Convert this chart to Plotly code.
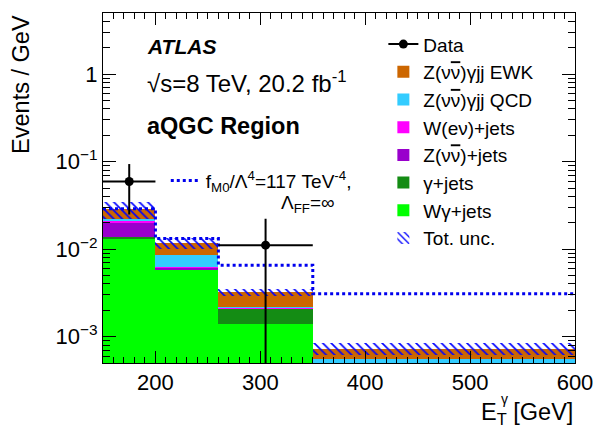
import numpy as np
import plotly.graph_objects as go

# ---------------- data ----------------
bin_edges = [150, 200, 260, 350, 600]

# stacked backgrounds (Events / GeV), bottom -> top
wgam_jets = [0.0134, 0.00580, 0.00141, 0.00035]
gam_jets = [0.0002, 0.00006, 0.00069, 0.00004]
znunu_jets = [0.0064, 0.00025, 0.00002, 0.00004]
wenu_jets = [0.0012, 0.00018, 0.00001, 0.00002]
zgjj_qcd = [0.0009, 0.0024, 0.00003, 0.0001]
zgjj_ewk = [0.0064, 0.0030, 0.00104, 0.00018]
tot_unc = [0.0065, 0.0017, 0.0003, 0.00012]

# aQGC signal + background
signal_fm0 = [0.0289, 0.0132, 0.00656, 0.0031]

# data
data_y = [0.0594, None, 0.0111, None]
data_err = [0.0345, None, 0.0111, None]

# ---------------- derived ----------------
edges = np.array(bin_edges, dtype=float)
centers = 0.5 * (edges[:-1] + edges[1:])
widths = edges[1:] - edges[:-1]
half = widths / 2

nunubar = 'ν<span style="text-decoration:overline">ν</span>'

components = [
    ("Wγ+jets", wgam_jets, "#00ff00", 7),
    ("γ+jets", gam_jets, "#148c14", 6),
    ("Z(" + nunubar + ")+jets", znunu_jets, "#9900cc", 5),
    ("W(eν)+jets", wenu_jets, "#ff00ff", 4),
    ("Z(" + nunubar + ")γjj QCD", zgjj_qcd, "#33ccff", 3),
    ("Z(" + nunubar + ")γjj EWK", zgjj_ewk, "#cc6600", 2),
]

fig = go.Figure()
base = np.zeros(len(centers))
for name, vals, col, rank in components:
    v = np.array(vals, dtype=float)
    fig.add_trace(go.Bar(
        x=centers, y=v, base=base.copy() if base.sum() > 0 else None,
        width=widths, name=name, marker=dict(color=col, line=dict(width=0)),
        legendrank=rank,
    ))
    base = base + v

total = base
unc = np.array(tot_unc)
fig.add_trace(go.Bar(
    x=centers, y=2 * unc, base=total - unc, width=widths, name="Tot. unc.",
    marker=dict(color="rgba(0,0,0,0)", line=dict(width=0),
                pattern=dict(shape="\\", fgcolor="#0000ff", bgcolor="rgba(0,0,0,0)",
                             fillmode="overlay", size=6, solidity=0.28, fgopacity=1)),
    legendrank=8,
))

sig_y = list(signal_fm0) + [signal_fm0[-1]]
fig.add_trace(go.Scatter(
    x=edges, y=sig_y, mode="lines", line=dict(color="#0000ee", width=3, dash="dot", shape="hv"),
    name="f<sub>M0</sub>/Λ<sup>4</sup>=117 TeV<sup>-4</sup>,", legend="legend2",
))

fig.add_trace(go.Scatter(
    x=centers, y=data_y, mode="lines+markers", name="Data",
    line=dict(color="black", width=2), connectgaps=False,
    marker=dict(color="black", size=9),
    error_x=dict(type="data", array=half, color="black", thickness=2, width=0),
    error_y=dict(type="data", array=data_err, color="black", thickness=2, width=0),
    legendrank=1,
))

font = "Liberation Sans, Arial, sans-serif"
minor_y = [m * 10.0 ** e for e in range(-4, 1) for m in range(2, 10)]

fig.update_layout(
    width=595, height=428,
    margin=dict(l=103, r=20, t=13, b=65, autoexpand=False),
    paper_bgcolor="white", plot_bgcolor="white",
    barmode="overlay", bargap=0,
    font=dict(family=font, color="black", size=21),
    xaxis=dict(range=[150, 600], tickvals=[200, 300, 400, 500, 600], automargin=False,
               ticks="inside", ticklen=12, tickwidth=1, tickcolor="black",
               showline=True, linecolor="black", linewidth=1, mirror="ticks",
               showgrid=False, zeroline=False, tickfont=dict(size=22),
               minor=dict(ticks="inside", ticklen=6, dtick=10, tick0=0,
                          tickcolor="black", showgrid=False)),
    yaxis=dict(type="log", range=[np.log10(5e-4), np.log10(5)], automargin=False,
               tickvals=[1e-3, 1e-2, 1e-1, 1],
               ticktext=["10<sup>−3</sup>", "10<sup>−2</sup>", "10<sup>−1</sup>", "1"],
               ticks="inside", ticklen=13, tickwidth=1, tickcolor="black",
               showline=True, linecolor="black", linewidth=1, mirror="ticks",
               showgrid=False, zeroline=False, tickfont=dict(size=22),
               minor=dict(ticks="inside", ticklen=7, tickmode="array", tickvals=minor_y,
                          tickcolor="black", showgrid=False)),
    legend=dict(x=0.594, y=0.965, xanchor="left", yanchor="top",
                bgcolor="rgba(0,0,0,0)", font=dict(size=19), traceorder="normal"),
    legend2=dict(x=0.133, y=0.575, xanchor="left", yanchor="top",
                 bgcolor="rgba(0,0,0,0)", font=dict(size=19)),
    showlegend=True,
)

ann = [
    dict(text="<b><i>ATLAS</i></b>", x=0.089, y=0.903, size=21),
    dict(text="√s=8 TeV, 20.2 fb<sup>-1</sup>", x=0.089, y=0.803, size=24),
    dict(text="<b>aQGC Region</b>", x=0.090, y=0.677, size=23.5),
]
for a in ann:
    fig.add_annotation(text=a["text"], x=a["x"], y=a["y"], xref="paper", yref="paper",
                       xanchor="left", yanchor="middle", showarrow=False,
                       font=dict(size=a["size"], family=font, color="black"))

fig.add_annotation(text="Λ<sub>FF</sub>=∞", x=0.434, y=0.455, xref="paper", yref="paper",
                   xanchor="center", yanchor="middle", showarrow=False,
                   font=dict(size=19, family=font, color="black"))
fig.add_annotation(text="Events / GeV", textangle=-90, x=-0.175, y=1.0, xref="paper", yref="paper",
                   xanchor="center", yanchor="top", showarrow=False,
                   font=dict(size=23.5, family=font, color="black"))
fig.add_annotation(text="E<sub>T</sub> [GeV]", x=1.0, y=-0.143, xref="paper", yref="paper",
                   xanchor="right", yanchor="middle", showarrow=False,
                   font=dict(size=23.5, family=font, color="black"))
fig.add_annotation(text="γ", x=0.850, y=-0.103, xref="paper", yref="paper",
                   xanchor="center", yanchor="middle", showarrow=False,
                   font=dict(size=14, family=font, color="black"))

fig.write_html("out.html", config={"displayModeBar": False},
               post_script="document.body.style.margin='0';")
